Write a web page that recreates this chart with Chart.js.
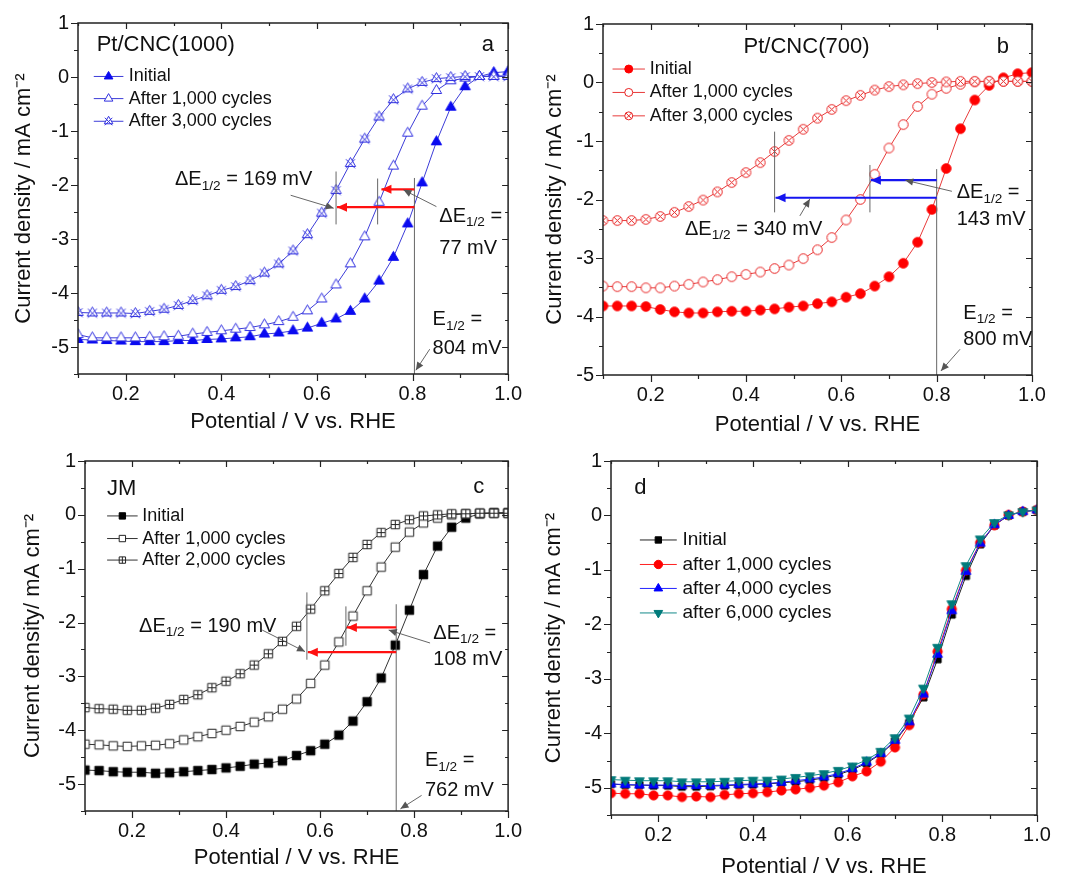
<!DOCTYPE html>
<html>
<head>
<meta charset="utf-8">
<script src="https://cdn.jsdelivr.net/npm/chart.js@4/dist/chart.umd.min.js"></script>
<style>
  body { margin: 0; background: #fff; }
  canvas { position: absolute; }
</style>
</head>
<body>
<canvas id="panelA" width="530" height="440" style="left:0;top:0"></canvas>
<canvas id="panelB" width="535" height="440" style="left:530px;top:0"></canvas>
<canvas id="panelC" width="530" height="437" style="left:0;top:440px"></canvas>
<canvas id="panelD" width="535" height="437" style="left:530px;top:440px"></canvas>
<script>
// potenziale (V vs. RHE) comune a tutte le curve
const potential = [0.10, 0.13, 0.16, 0.19, 0.22, 0.25, 0.28, 0.31, 0.34, 0.37, 0.40,
  0.43, 0.46, 0.49, 0.52, 0.55, 0.58, 0.61, 0.64, 0.67, 0.70, 0.73, 0.76, 0.79,
  0.82, 0.85, 0.88, 0.91, 0.94, 0.97, 1.00];

// a) Pt/CNC(1000)
const aInitial = [-4.86, -4.87, -4.88, -4.89, -4.90, -4.90, -4.90, -4.88, -4.88, -4.86, -4.85,
  -4.83, -4.81, -4.76, -4.74, -4.70, -4.65, -4.56, -4.48, -4.34, -4.11, -3.78, -3.34, -2.72,
  -1.96, -1.20, -0.56, -0.18, 0.01, 0.08, 0.10];
const a1000 = [-4.77, -4.83, -4.83, -4.83, -4.83, -4.82, -4.81, -4.80, -4.76, -4.73, -4.70,
  -4.67, -4.64, -4.59, -4.53, -4.45, -4.33, -4.11, -3.85, -3.46, -2.96, -2.32, -1.65, -1.04,
  -0.54, -0.25, -0.07, -0.02, 0.01, 0.02, 0.02];
const a3000 = [-4.36, -4.37, -4.37, -4.37, -4.38, -4.34, -4.30, -4.23, -4.14, -4.05, -3.95,
  -3.88, -3.77, -3.63, -3.46, -3.22, -2.92, -2.52, -2.10, -1.60, -1.15, -0.74, -0.42, -0.22,
  -0.10, -0.03, -0.01, 0.01, 0.01, 0.01, 0.01];

// b) Pt/CNC(700)
const bInitial = [-3.82, -3.82, -3.82, -3.83, -3.88, -3.92, -3.94, -3.94, -3.92, -3.91, -3.91,
  -3.89, -3.87, -3.84, -3.82, -3.78, -3.75, -3.67, -3.61, -3.48, -3.32, -3.09, -2.73, -2.17,
  -1.47, -0.79, -0.30, -0.05, 0.08, 0.15, 0.17];
const b1000 = [-3.48, -3.49, -3.49, -3.51, -3.51, -3.48, -3.45, -3.41, -3.37, -3.32, -3.28,
  -3.24, -3.18, -3.12, -3.01, -2.86, -2.65, -2.35, -2.00, -1.57, -1.12, -0.72, -0.41, -0.20,
  -0.10, -0.03, 0.01, 0.02, 0.02, 0.02, 0.02];
const b3000 = [-2.36, -2.36, -2.36, -2.34, -2.29, -2.22, -2.12, -2.01, -1.87, -1.71, -1.54,
  -1.37, -1.18, -0.99, -0.80, -0.61, -0.46, -0.31, -0.22, -0.13, -0.07, -0.04, -0.02, 0.00,
  0.01, 0.02, 0.02, 0.02, 0.02, 0.02, 0.02];

// c) JM
const cInitial = [-4.74, -4.75, -4.77, -4.78, -4.78, -4.80, -4.79, -4.77, -4.75, -4.73, -4.70,
  -4.67, -4.63, -4.61, -4.57, -4.47, -4.38, -4.26, -4.09, -3.83, -3.47, -3.03, -2.42, -1.77,
  -1.11, -0.58, -0.23, -0.06, 0.02, 0.04, 0.04];
const c1000 = [-4.26, -4.27, -4.29, -4.30, -4.29, -4.28, -4.25, -4.18, -4.12, -4.06, -4.00,
  -3.93, -3.85, -3.75, -3.61, -3.42, -3.13, -2.79, -2.36, -1.88, -1.41, -0.97, -0.60, -0.32,
  -0.15, -0.06, 0.00, 0.02, 0.03, 0.03, 0.03];
const c2000 = [-3.58, -3.60, -3.61, -3.63, -3.63, -3.59, -3.52, -3.43, -3.34, -3.21, -3.09,
  -2.95, -2.79, -2.58, -2.35, -2.07, -1.75, -1.41, -1.09, -0.79, -0.55, -0.33, -0.18, -0.09,
  -0.02, 0.00, 0.02, 0.02, 0.03, 0.03, 0.03];

// d)
const dInitial = [-4.93, -4.95, -4.95, -4.96, -4.96, -4.98, -4.98, -4.97, -4.96, -4.95, -4.94,
  -4.93, -4.91, -4.89, -4.86, -4.82, -4.76, -4.67, -4.55, -4.38, -4.15, -3.81, -3.34, -2.64,
  -1.82, -1.11, -0.53, -0.18, 0.00, 0.07, 0.10];
const d1000 = [-5.10, -5.11, -5.11, -5.14, -5.14, -5.17, -5.16, -5.17, -5.13, -5.11, -5.10,
  -5.08, -5.05, -5.03, -5.00, -4.96, -4.90, -4.79, -4.70, -4.52, -4.26, -3.85, -3.29, -2.50,
  -1.72, -1.01, -0.50, -0.18, 0.01, 0.07, 0.10];
const d4000 = [-4.93, -4.94, -4.95, -4.95, -4.95, -4.96, -4.96, -4.96, -4.95, -4.94, -4.93,
  -4.92, -4.90, -4.87, -4.84, -4.80, -4.74, -4.65, -4.53, -4.37, -4.13, -3.79, -3.28, -2.55,
  -1.75, -1.03, -0.51, -0.17, 0.00, 0.07, 0.10];
const d6000 = [-4.85, -4.86, -4.87, -4.87, -4.87, -4.89, -4.89, -4.89, -4.88, -4.87, -4.86,
  -4.86, -4.84, -4.81, -4.78, -4.74, -4.68, -4.60, -4.49, -4.33, -4.08, -3.72, -3.17, -2.42,
  -1.62, -0.92, -0.43, -0.13, 0.01, 0.07, 0.10];

const FONT = '"Liberation Sans", Arial, Helvetica, sans-serif';
const INK = '#111';

// --- marcatori ---
function shapePath(ctx, shape, cx, cy, r) {
  ctx.beginPath();
  if (shape === 'circle') {
    ctx.arc(cx, cy, r, 0, Math.PI * 2);
  } else if (shape === 'square') {
    const s = r * Math.SQRT1_2;
    ctx.rect(cx - s, cy - s, 2 * s, 2 * s);
  } else {
    const d = shape === 'triDown' ? -1 : 1;
    ctx.moveTo(cx, cy - d * r);
    ctx.lineTo(cx - r * 0.866, cy + d * r * 0.5);
    ctx.lineTo(cx + r * 0.866, cy + d * r * 0.5);
    ctx.closePath();
  }
}

function drawMarker(ctx, m, cx, cy, r) {
  ctx.save();
  ctx.lineWidth = 1;
  ctx.strokeStyle = m.color;
  ctx.fillStyle = m.filled ? m.color : '#fff';
  shapePath(ctx, m.shape, cx, cy, r);
  ctx.fill();
  ctx.stroke();
  ctx.beginPath();
  if (m.cross === 'x') {
    const k = m.shape === 'circle' ? r * 0.7 : r * 0.75;
    const oy = m.shape === 'triUp' ? r * 0.05 : 0;
    ctx.moveTo(cx - k, cy - k + oy); ctx.lineTo(cx + k, cy + k + oy);
    ctx.moveTo(cx + k, cy - k + oy); ctx.lineTo(cx - k, cy + k + oy);
  } else if (m.cross === '+') {
    const k = r * Math.SQRT1_2;
    ctx.moveTo(cx - k, cy); ctx.lineTo(cx + k, cy);
    ctx.moveTo(cx, cy - k); ctx.lineTo(cx, cy + k);
  }
  ctx.stroke();
  ctx.restore();
}

function glyph(m, r) {
  const size = Math.ceil(2 * r + 3);
  const c = document.createElement('canvas');
  c.width = size; c.height = size;
  drawMarker(c.getContext('2d'), m, size / 2, size / 2, r);
  return c;
}

// le serie successive vengono disegnate sopra le precedenti
function series(label, values, lineColor, mark, order) {
  return {
    label,
    data: values.map((v, i) => ({ x: potential[i], y: v })),
    borderColor: lineColor,
    backgroundColor: mark.color,
    borderWidth: 1,
    tension: 0,
    order: -order,
    pointStyle: glyph(mark, mark.r),
    pointRadius: mark.r,
    pointHoverRadius: mark.r,
    mark
  };
}

// --- cornice con tacche ---
const framePlugin = {
  id: 'frame',
  afterDraw(chart) {
    const { ctx, chartArea: { left, right, top, bottom }, scales: { x, y } } = chart;
    ctx.save();
    ctx.strokeStyle = '#222';
    ctx.lineWidth = 1.5;
    ctx.strokeRect(left, top, right - left, bottom - top);
    ctx.lineWidth = 1.2;
    ctx.beginPath();
    x.ticks.forEach(t => {
      const major = Math.round(t.value * 10) % 2 === 0;
      const p = Math.round(x.getPixelForValue(t.value)) + 0.5;
      const len = major ? 7 : 4;
      ctx.moveTo(p, bottom); ctx.lineTo(p, bottom + len);
      ctx.moveTo(p, top); ctx.lineTo(p, top + len - 1);
    });
    y.ticks.forEach(t => {
      const major = Math.abs(t.value - Math.round(t.value)) < 1e-6;
      const p = Math.round(y.getPixelForValue(t.value)) + 0.5;
      const len = major ? 7 : 4;
      ctx.moveTo(left, p); ctx.lineTo(left - len, p);
      ctx.moveTo(right, p); ctx.lineTo(right - len + 1, p);
    });
    ctx.stroke();
    ctx.restore();
  }
};

// --- legenda linea + marcatore ---
function legendPlugin(spec) {
  return {
    id: 'curveLegend',
    afterDatasetsDraw(chart) {
      const { ctx, scales: { x, y } } = chart;
      const x1 = x.getPixelForValue(spec.x1), x2 = x.getPixelForValue(spec.x2);
      chart.data.datasets.forEach((ds, i) => {
        const yy = y.getPixelForValue(spec.rows[i]);
        ctx.save();
        ctx.strokeStyle = ds.borderColor;
        ctx.lineWidth = 1;
        ctx.beginPath();
        ctx.moveTo(x1, yy); ctx.lineTo(x2, yy);
        ctx.stroke();
        drawMarker(ctx, ds.mark, (x1 + x2) / 2, yy, ds.mark.legendR);
        ctx.fillStyle = INK;
        ctx.font = spec.size + 'px ' + FONT;
        ctx.textBaseline = 'middle';
        ctx.fillText(ds.label, x.getPixelForValue(spec.tx), yy);
        ctx.restore();
      });
    }
  };
}

// --- annotazioni (frecce, linee, testi) ---
function drawRich(ctx, parts, x, y, size, align) {
  const widths = parts.map(([t, sub]) => {
    ctx.font = (sub ? size * 0.68 : size) + 'px ' + FONT;
    return ctx.measureText(t).width;
  });
  const total = widths.reduce((a, b) => a + b, 0);
  let cx = align === 'center' ? x - total / 2 : x;
  parts.forEach(([t, sub], i) => {
    ctx.font = (sub ? size * 0.68 : size) + 'px ' + FONT;
    ctx.fillText(t, cx, sub ? y + size * 0.32 : y);
    cx += widths[i];
  });
}

function notesPlugin(items) {
  return {
    id: 'notes',
    afterDatasetsDraw(chart) {
      const { ctx, scales: { x, y } } = chart;
      ctx.save();
      items.forEach(n => {
        if (n.type === 'text') {
          ctx.fillStyle = INK;
          ctx.textBaseline = 'middle';
          drawRich(ctx, n.parts, x.getPixelForValue(n.x), y.getPixelForValue(n.y), n.size, n.align);
          return;
        }
        const x1 = x.getPixelForValue(n.x1), y1 = y.getPixelForValue(n.y1);
        const x2 = x.getPixelForValue(n.x2), y2 = y.getPixelForValue(n.y2);
        ctx.strokeStyle = n.color;
        ctx.fillStyle = n.color;
        ctx.lineWidth = n.width;
        ctx.beginPath();
        ctx.moveTo(x1, y1); ctx.lineTo(x2, y2);
        ctx.stroke();
        if (n.head) {
          const ang = Math.atan2(y2 - y1, x2 - x1);
          const h = n.head, w = n.head * 0.45;
          ctx.beginPath();
          ctx.moveTo(x2, y2);
          ctx.lineTo(x2 - h * Math.cos(ang) + w * Math.sin(ang), y2 - h * Math.sin(ang) - w * Math.cos(ang));
          ctx.lineTo(x2 - h * Math.cos(ang) - w * Math.sin(ang), y2 - h * Math.sin(ang) + w * Math.cos(ang));
          ctx.closePath();
          ctx.fill();
        }
      });
      ctx.restore();
    }
  };
}

const vline = (xv, y1, y2) => ({ type: 'line', x1: xv, y1, x2: xv, y2, color: '#666', width: 1 });
const arrow = (x1, y1, x2, color) => ({ type: 'line', x1, y1, x2, y2: y1, color, width: 2.2, head: 10 });
const leader = (x1, y1, x2, y2) => ({ type: 'line', x1, y1, x2, y2, color: '#555', width: 0.9, head: 8 });
const text = (xv, yv, parts, size = 20, align = 'left') => ({ type: 'text', x: xv, y: yv, parts, size, align });
const dE = rest => [['ΔE', 0], ['1/2', 1], [rest, 0]];
const E12 = [['E', 0], ['1/2', 1], [' =', 0]];

// --- opzioni comuni ---
function panelOptions(p) {
  return {
    responsive: false,
    animation: false,
    layout: { padding: { top: p.top, right: p.right, left: 0, bottom: 0 } },
    plugins: { legend: { display: false }, tooltip: { enabled: false } },
    scales: {
      x: {
        type: 'linear', min: 0.1, max: 1.0,
        grid: { display: false, drawTicks: false, tickLength: 0 },
        border: { display: false },
        ticks: {
          stepSize: 0.1, autoSkip: false, maxRotation: 0, padding: 8, color: INK,
          font: { family: FONT, size: 20 },
          callback: v => { const k = Math.round(v * 10); return k % 2 === 0 ? (k / 10).toFixed(1) : ''; }
        },
        title: {
          display: true, text: 'Potential / V vs. RHE', color: INK,
          font: { family: FONT, size: 22 }, padding: { top: 0, bottom: p.xTitlePad }
        },
        afterFit: s => { s.height = p.xHeight; }
      },
      y: {
        min: p.ymin, max: 1,
        grid: { display: false, drawTicks: false, tickLength: 0 },
        border: { display: false },
        ticks: {
          stepSize: 0.5, autoSkip: false, padding: 9, color: INK,
          font: { family: FONT, size: 20 },
          callback: v => Math.abs(v - Math.round(v)) < 1e-6 ? String(Math.round(v)) : ''
        },
        title: {
          display: true, text: p.yTitle, color: INK,
          font: { family: FONT, size: 22 }, padding: { top: p.yTitlePad, bottom: 0 }
        },
        afterFit: s => { s.width = p.yWidth; }
      }
    }
  };
}

function makePanel(id, datasets, p, legend, notes) {
  return new Chart(document.getElementById(id), {
    type: 'line',
    data: { datasets },
    options: panelOptions(p),
    plugins: [framePlugin, legendPlugin(legend), notesPlugin(notes)]
  });
}

// a
const blueLine = '#3c3cd8', blue = '#0a0af0';
makePanel('panelA', [
  series('Initial', aInitial, blueLine, { shape: 'triUp', filled: true, color: blue, r: 6, legendR: 5 }, 0),
  series('After 1,000 cycles', a1000, blueLine, { shape: 'triUp', filled: false, color: '#3030e0', r: 6, legendR: 5 }, 1),
  series('After 3,000 cycles', a3000, blueLine, { shape: 'triUp', filled: false, cross: 'x', color: '#3030e0', r: 6, legendR: 5 }, 2)
], { top: 23, right: 13, yWidth: 78, xHeight: 66, ymin: -5.5, yTitlePad: 11, xTitlePad: 5,
     yTitle: 'Current density / mA cm⁻²' },
{ x1: 0.133, x2: 0.195, tx: 0.206, rows: [0.01, -0.40, -0.82], size: 18 },
[
  vline(0.804, -1.87, -5.5), vline(0.640, -1.75, -2.73), vline(0.727, -1.88, -2.73),
  arrow(0.804, -2.08, 0.735, '#ff1010'), arrow(0.804, -2.41, 0.642, '#ff1010'),
  leader(0.545, -2.19, 0.635, -2.43), leader(0.85, -2.40, 0.781, -2.09), leader(0.836, -5.04, 0.807, -5.43),
  text(0.303, -1.90, dE(' = 169 mV')),
  text(0.856, -2.58, dE(' =')), text(0.856, -3.17, [['77 mV', 0]]),
  text(0.842, -4.49, E12), text(0.842, -5.02, [['804 mV', 0]]),
  text(0.139, 0.60, [['Pt/CNC(1000)', 0]], 22),
  text(0.945, 0.60, [['a', 0]], 22)
]);

// b
const redLine = '#e83a3a', red = '#ff0000';
makePanel('panelB', [
  series('Initial', bInitial, redLine, { shape: 'circle', filled: true, color: red, r: 4.8, legendR: 4 }, 0),
  series('After 1,000 cycles', b1000, redLine, { shape: 'circle', filled: false, color: '#e82020', r: 4.8, legendR: 4 }, 1),
  series('After 3,000 cycles', b3000, redLine, { shape: 'circle', filled: false, cross: 'x', color: '#e82020', r: 4.8, legendR: 4 }, 2)
], { top: 24, right: 33, yWidth: 73, xHeight: 65, ymin: -5, yTitlePad: 12, xTitlePad: 2,
     yTitle: 'Current density / mA cm⁻²' },
{ x1: 0.120, x2: 0.188, tx: 0.198, rows: [0.23, -0.17, -0.57], size: 18 },
[
  vline(0.80, -1.48, -5), vline(0.46, -0.84, -2.22), vline(0.66, -1.41, -2.22),
  arrow(0.80, -1.67, 0.662, '#1515f0'), arrow(0.80, -1.97, 0.462, '#1515f0'),
  leader(0.513, -2.28, 0.534, -1.99), leader(0.832, -1.86, 0.734, -1.67), leader(0.849, -4.56, 0.809, -4.93),
  text(0.272, -2.51, dE(' = 340 mV')),
  text(0.842, -1.88, dE(' =')), text(0.842, -2.34, [['143 mV', 0]]),
  text(0.856, -3.94, E12), text(0.856, -4.39, [['800 mV', 0]]),
  text(0.527, 0.60, [['Pt/CNC(700)', 0]], 22, 'center'),
  text(0.926, 0.60, [['b', 0]], 22)
]);

// c
const greyLine = '#333', black = '#000';
makePanel('panelC', [
  series('Initial', cInitial, greyLine, { shape: 'square', filled: true, color: black, r: 6, legendR: 4.5 }, 0),
  series('After 1,000 cycles', c1000, greyLine, { shape: 'square', filled: false, color: '#222', r: 6, legendR: 4.5 }, 1),
  series('After 2,000 cycles', c2000, greyLine, { shape: 'square', filled: false, cross: '+', color: '#222', r: 6, legendR: 4.5 }, 2)
], { top: 18, right: 16, yWidth: 85, xHeight: 66, ymin: -5.5, yTitlePad: 20, xTitlePad: 6,
     yTitle: 'Current density/ mA cm⁻²' },
{ x1: 0.147, x2: 0.212, tx: 0.222, rows: [-0.02, -0.44, -0.84], size: 18 },
[
  vline(0.762, -1.66, -5.5), vline(0.572, -1.44, -2.69), vline(0.655, -1.70, -2.43),
  arrow(0.762, -2.09, 0.657, '#ff1010'), arrow(0.762, -2.55, 0.574, '#ff1010'),
  leader(0.477, -2.14, 0.568, -2.54), leader(0.834, -2.38, 0.746, -2.14), leader(0.816, -5.21, 0.771, -5.46),
  text(0.215, -2.07, dE(' = 190 mV')),
  text(0.841, -2.20, dE(' =')), text(0.841, -2.69, [['108 mV', 0]]),
  text(0.823, -4.57, E12), text(0.823, -5.12, [['762 mV', 0]]),
  text(0.147, 0.48, [['JM', 0]], 22),
  text(0.926, 0.51, [['c', 0]], 22)
]);

// d
makePanel('panelD', [
  series('Initial', dInitial, '#222', { shape: 'square', filled: true, color: '#000', r: 5, legendR: 4.5 }, 0),
  series('after 1,000 cycles', d1000, '#ff2020', { shape: 'circle', filled: true, color: '#ff0000', r: 4.6, legendR: 4.2 }, 1),
  series('after 4,000 cycles', d4000, '#2424ff', { shape: 'triUp', filled: true, color: '#0000ff', r: 5.6, legendR: 5 }, 2),
  series('after 6,000 cycles', d6000, '#148a8a', { shape: 'triDown', filled: true, color: '#007b7b', r: 5.6, legendR: 5 }, 3)
], { top: 19, right: 28, yWidth: 81, xHeight: 62, ymin: -5.5, yTitlePad: 11, xTitlePad: -3,
     yTitle: 'Current density / mA cm⁻²' },
{ x1: 0.161, x2: 0.239, tx: 0.251, rows: [-0.45, -0.90, -1.34, -1.79], size: 19 },
[
  text(0.149, 0.50, [['d', 0]], 22)
]);
</script>
</body>
</html>
